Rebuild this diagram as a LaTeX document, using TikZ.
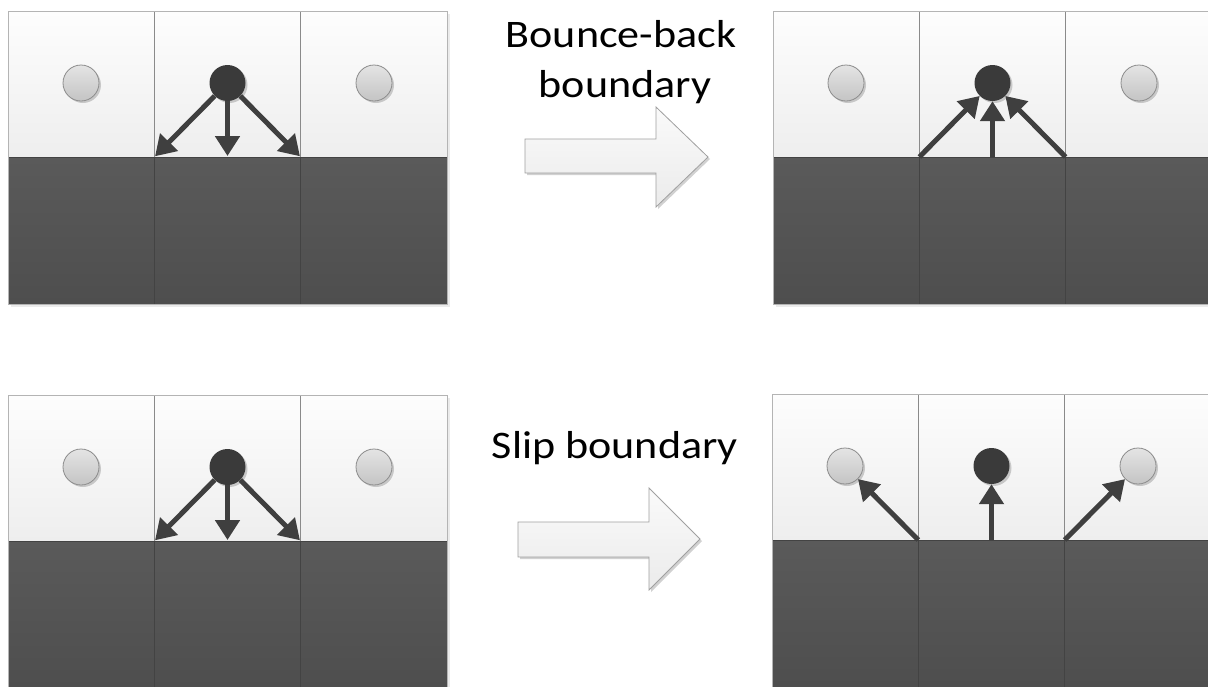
\documentclass[tikz,border=0pt]{standalone}
\usepackage{fontspec}
\setmainfont{Carlito}
\newfontfamily\captionfont[FakeStretch=1.13]{Carlito}
\usetikzlibrary{arrows.meta,shadows}

\definecolor{celltop}{HTML}{FDFDFD}
\definecolor{cellbot}{HTML}{EEEEEE}
\definecolor{darktop}{HTML}{5A5A5A}
\definecolor{darkbot}{HTML}{4E4E4E}
\definecolor{cellline}{HTML}{8A8A8A}
\definecolor{darkline}{HTML}{434343}
\definecolor{outerline}{HTML}{B4B4B4}
\definecolor{ghosttop}{HTML}{E4E4E4}
\definecolor{ghostbot}{HTML}{C4C4C4}
\definecolor{ghostline}{HTML}{8C8C8C}
\definecolor{particlecol}{HTML}{3A3A3A}
\definecolor{arrowcol}{HTML}{3F3F3F}
\definecolor{blocktop}{HTML}{FAFAFA}
\definecolor{blockbot}{HTML}{EBEBEB}
\definecolor{blockline}{HTML}{A0A0A0}

\tikzset{
  softshadow/.style={drop shadow={shadow xshift=2pt, shadow yshift=-2pt, opacity=0.18, fill=black}},
  lightcell/.style={top color=celltop, bottom color=cellbot, draw=cellline, line width=0.8pt},
  darkcell/.style={top color=darktop, bottom color=darkbot, draw=darkline, line width=0.8pt},
  ghost/.style={circle, minimum size=36pt, inner sep=0pt, draw=ghostline, line width=0.8pt,
    top color=ghosttop, bottom color=ghostbot, softshadow},
  particle/.style={circle, minimum size=36pt, inner sep=0pt, fill=particlecol, softshadow},
  vel/.style={draw=arrowcol, line width=5pt, -{Triangle[length=20pt,width=24pt]}},
  blockarrow/.style={top color=blocktop, bottom color=blockbot, draw=blockline, line width=0.8pt},
  caption/.style={font=\captionfont\fontsize{39}{42}\selectfont, anchor=base, inner sep=0pt}
}

% One lattice strip: three fluid cells above three wall cells,
% a particle in the middle cell and its two neighbours.
\newcommand\latticepanel[3]{%
  \begin{scope}[shift={(#2,#3)}]
    \fill[black, opacity=0.08] (3,3) rectangle (442,296);
    \foreach \i in {0,1,2} {
      \path[lightcell] (\i*146.33,0) rectangle ++(146.33,146);
      \path[darkcell] (\i*146.33,146) rectangle ++(146.33,147);
    }
    \draw[outerline, line width=0.8pt] (0,0) rectangle (439,293);
    \node[ghost] (#1-l) at (73,72) {};
    \node[particle] (#1-c) at (219.5,72) {};
    \node[ghost] (#1-r) at (366,72) {};
    \coordinate (#1-wl) at (146.33,146);
    \coordinate (#1-wc) at (219.5,146);
    \coordinate (#1-wr) at (292.67,146);
  \end{scope}}

\begin{document}
\begin{tikzpicture}[x=1pt, y=-1pt]
  \useasboundingbox (0,0) rectangle (1208,686);
  \fill[white] (0,0) rectangle (1208,686);
  \clip (0,0) rectangle (1208,686);

  % four lattice strips
  \latticepanel{tl}{8}{11}
  \latticepanel{tr}{773}{11}
  \latticepanel{bl}{8}{395}
  \latticepanel{br}{772}{394}

  % populations streaming into the wall
  \draw[vel, shorten >=1pt] (tl-c) -- (tl-wl);
  \draw[vel, shorten >=1pt] (tl-c) -- (tl-wc);
  \draw[vel, shorten >=1pt] (tl-c) -- (tl-wr);
  \draw[vel, shorten >=1pt] (bl-c) -- (bl-wl);
  \draw[vel, shorten >=1pt] (bl-c) -- (bl-wc);
  \draw[vel, shorten >=1pt] (bl-c) -- (bl-wr);

  % bounce-back: all return to the same node
  \draw[vel] (tr-wl) -- (tr-c);
  \draw[vel] (tr-wc) -- (tr-c);
  \draw[vel] (tr-wr) -- (tr-c);

  % slip: tangential component kept
  \draw[vel] (br-wl) -- (br-l);
  \draw[vel] (br-wc) -- (br-c);
  \draw[vel] (br-wr) -- (br-r);

  % block arrows
  \path[blockarrow, softshadow] (525,139) -- (656,139) -- (656,107) -- (708,157)
    -- (656,207) -- (656,173) -- (525,173) -- cycle;
  \path[blockarrow, softshadow] (518,522) -- (649,522) -- (649,488) -- (700,539)
    -- (649,590) -- (649,557) -- (518,557) -- cycle;

  % captions
  \node[caption] (bb1) at (621,47) {Bounce-back};
  \node[caption] (bb2) at (625,97) {boundary};
  \node[caption] (slip) at (615,458) {Slip boundary};
\end{tikzpicture}
\end{document}
